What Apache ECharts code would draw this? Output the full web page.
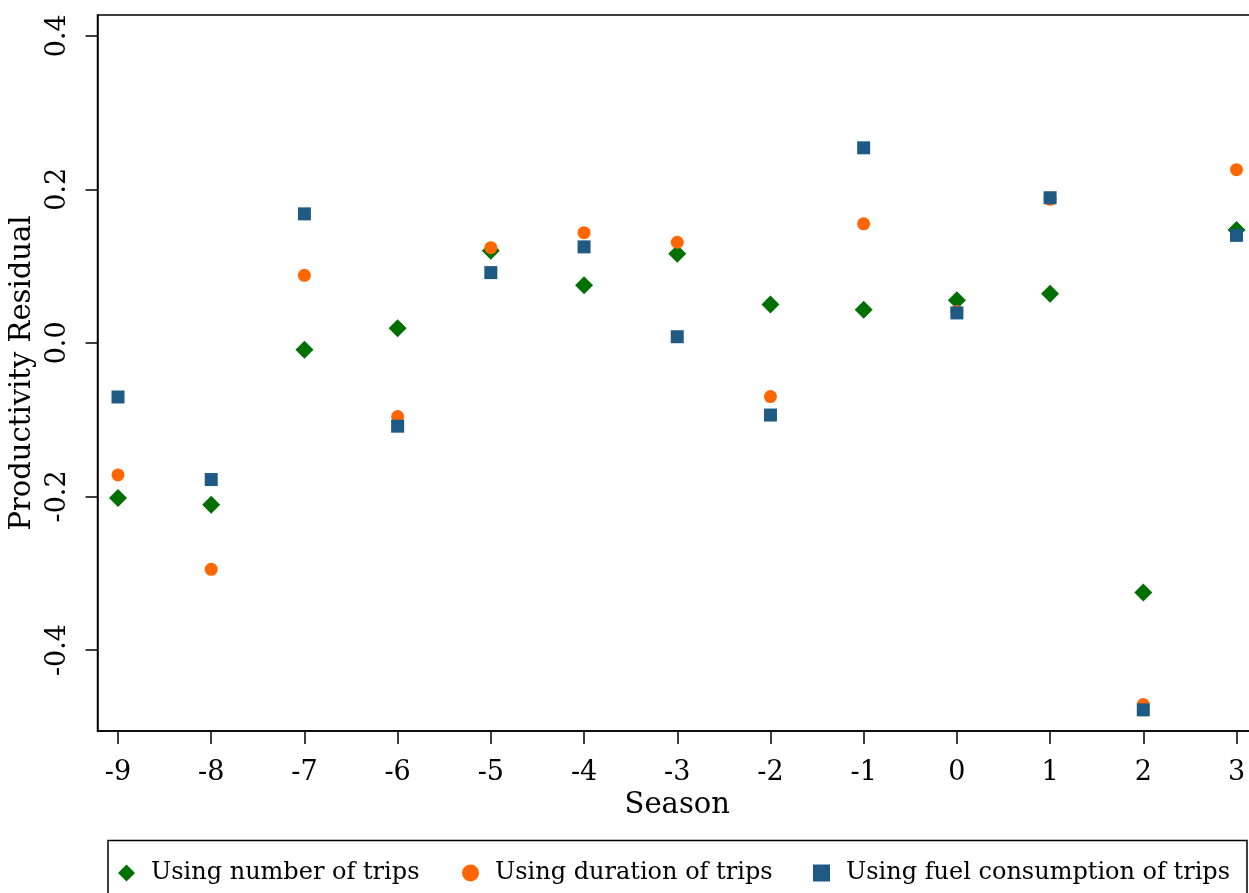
<!DOCTYPE html>
<html>
<head>
<meta charset="utf-8">
<script src="https://cdn.jsdelivr.net/npm/echarts@6/dist/echarts.min.js"></script>
<style>html,body{margin:0;padding:0;background:#fff}#c{width:1249px;height:893px}</style>
</head>
<body>
<div id="c"></div>
<script>
var seasons = [-9, -8, -7, -6, -5, -4, -3, -2, -1, 0, 1, 2, 3];
var numberTrips   = [-0.202, -0.211, -0.009, 0.019, 0.120, 0.075, 0.116, 0.050, 0.043, 0.0555, 0.064, -0.325, 0.147];
var durationTrips = [-0.172, -0.295, 0.088, -0.096, 0.124, 0.1435, 0.131, -0.070, 0.155, 0.041, 0.187, -0.471, 0.2255];
var fuelTrips     = [-0.0705, -0.178, 0.168, -0.1085, 0.0915, 0.125, 0.008, -0.094, 0.254, 0.039, 0.189, -0.478, 0.140];
var xTicks = [-9, -8, -7, -6, -5, -4, -3, -2, -1, 0, 1, 2, 3];
var yTicks = [-0.4, -0.2, 0, 0.2, 0.4];
var seriesNames = ['Using number of trips', 'Using duration of trips', 'Using fuel consumption of trips'];

var FONT = 'DejaVu Serif';
function pairs(vals) { return seasons.map(function (s, i) { return [s, vals[i]]; }); }

var chart = echarts.init(document.getElementById('c'), null, {renderer: 'canvas'});
var legendCommon = {
  orient: 'horizontal', padding: 0, top: 861, itemWidth: 17, itemHeight: 17,
  textStyle: {fontFamily: FONT, fontSize: 24, color: '#000', padding: [0, 0, 0, 11]},
  selectedMode: false
};
chart.setOption({
  animation: false,
  backgroundColor: '#fff',
  grid: {left: 97.5, top: 15, right: -8, bottom: 162, outerBoundsMode: 'none', containLabel: false,
    show: true, borderColor: '#000', borderWidth: 1.5, backgroundColor: 'transparent'},
  xAxis: {
    type: 'value', min: -9.22, max: 3.22,
    name: 'Season', nameLocation: 'middle', nameGap: 57,
    nameTextStyle: {fontFamily: FONT, fontSize: 29, color: '#000'},
    axisLine: {show: true, onZero: false, lineStyle: {color: '#000', width: 1.5}},
    axisTick: {show: true, length: 13, lineStyle: {color: '#000', width: 1.5}, customValues: xTicks},
    axisLabel: {fontFamily: FONT, fontSize: 27, color: '#000', margin: 28, customValues: xTicks,
      formatter: function (v) { return String(v); }},
    splitLine: {show: false}
  },
  yAxis: {
    type: 'value', min: -0.5055, max: 0.427,
    name: 'Productivity Residual', nameLocation: 'middle', nameGap: 60,
    nameTextStyle: {fontFamily: FONT, fontSize: 29, color: '#000'},
    axisLine: {show: true, onZero: false, lineStyle: {color: '#000', width: 1.5}},
    axisTick: {show: true, length: 12, lineStyle: {color: '#000', width: 1.5}, customValues: yTicks},
    axisLabel: {fontFamily: FONT, fontSize: 27, color: '#000', margin: 26, rotate: 90, customValues: yTicks,
      formatter: function (v) { return v.toFixed(1); }},
    splitLine: {show: false}
  },
  legend: [
    Object.assign({left: 118, data: [seriesNames[0]]}, legendCommon),
    Object.assign({left: 462, data: [seriesNames[1]]}, legendCommon),
    Object.assign({left: 813, data: [seriesNames[2]]}, legendCommon)
  ],
  graphic: [{
    type: 'rect', shape: {x: 108, y: 840.5, width: 1139, height: 80},
    style: {fill: 'none', stroke: '#000', lineWidth: 1.5}, silent: true
  }],
  series: [
    {name: seriesNames[0], type: 'scatter', symbol: 'diamond', symbolSize: 18, data: pairs(numberTrips),
      itemStyle: {color: '#007000', opacity: 1}},
    {name: seriesNames[1], type: 'scatter', symbol: 'circle', symbolSize: 13, data: pairs(durationTrips),
      itemStyle: {color: '#ff6600', opacity: 1}},
    {name: seriesNames[2], type: 'scatter', symbol: 'rect', symbolSize: 13, data: pairs(fuelTrips),
      itemStyle: {color: '#1f5a84', opacity: 1}}
  ]
});
</script>
</body>
</html>
